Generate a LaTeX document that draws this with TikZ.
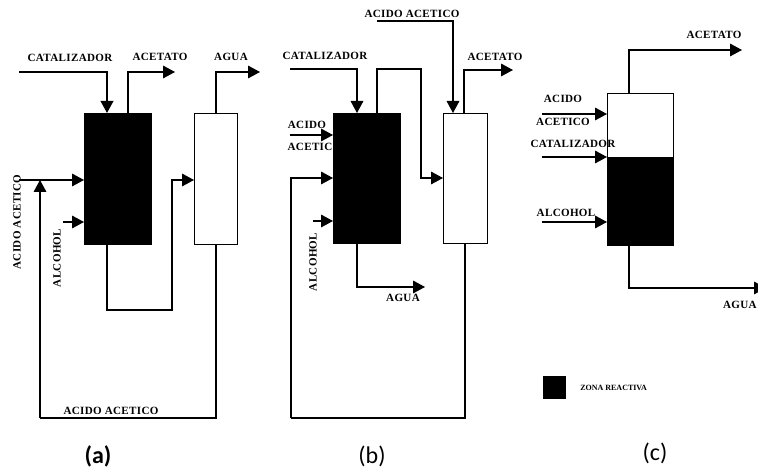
\documentclass[tikz,border=0pt]{standalone}
\usepackage{fontspec}
\setmainfont{Liberation Serif}
\newfontfamily\capfont{Carlito}
\usetikzlibrary{arrows.meta}
\tikzset{
  flow/.style={draw=black,line width=0.9pt,line join=miter,-{Triangle[length=9pt,width=9.5pt]}},
  heavy/.style={line width=1.15pt},
  pipe/.style={draw=black,line width=0.9pt},
  whitebox/.style={draw=black,line width=0.9pt,fill=white,inner sep=0pt,anchor=north west},
  blackbox/.style={draw=black,line width=0.9pt,fill=black,inner sep=0pt,anchor=north west},
  lab/.style={inner sep=0pt,font=\bfseries\fontsize{8.3}{9}\selectfont\addfontfeature{LetterSpace=3}},
  smalllab/.style={inner sep=0pt,font=\bfseries\fontsize{6}{7}\selectfont},
  vlab/.style={lab,rotate=90},
  panelcap/.style={inner sep=0pt,font=\capfont\fontsize{18}{20}\selectfont}
}
\begin{document}
\begin{tikzpicture}[x=0.75pt,y=-0.75pt]
\useasboundingbox (0,0) rectangle (758,470);
\clip (0,0) rectangle (758,470);
% (a)
\node[blackbox,minimum width=50pt,minimum height=98.25pt] (A1) at (84,113) {};
\node[whitebox,minimum width=32pt,minimum height=98.25pt] (A2) at (194,113) {};
\coordinate (acat) at (19,72);  \coordinate (acatin) at (107,113);
\coordinate (aaceo) at (128,113); \coordinate (aacet) at (175,72);
\coordinate (aaguo) at (216,113); \coordinate (aagu) at (260,72);
\coordinate (aac) at (19,180);  \coordinate (aacin) at (84,180);
\coordinate (aalc) at (63,222); \coordinate (aalcin) at (84,222);
\coordinate (abot) at (107,244); \coordinate (amid) at (172,310); \coordinate (a2in) at (194,180);
\coordinate (a2bot) at (216,244); \coordinate (arec) at (40,418); \coordinate (arecin) at (40,180);
\draw[flow,heavy] (acat) -| (acatin);
\draw[flow] (aaceo) |- (aacet);
\draw[flow] (aaguo) |- (aagu);
\draw[flow] (aac) -- (aacin);
\draw[flow] (aalc) -- (aalcin);
\draw[flow] (abot) |- (amid) |- (a2in);
\draw[pipe] (a2bot) |- (arec);
\draw[flow] (arec) -- (arecin);
\node[lab] (t1) at (70,58) {CATALIZADOR};
\node[lab] (t2) at (160,57) {ACETATO};
\node[lab] (t3) at (231,57) {AGUA};
\node[vlab] (t4) at (17,222) {ACIDO ACETICO};
\node[vlab] (t5) at (57,258) {ALCOHOL};
\node[lab] (t6) at (111,411) {ACIDO ACETICO};
\node[panelcap,font=\capfont\bfseries\fontsize{18}{20}\selectfont] (ca) at (98,456) {(a)};
% (b)
\node[blackbox,minimum width=50.25pt,minimum height=97.5pt] (B1) at (333,113) {};
\node[whitebox,minimum width=33pt,minimum height=97.5pt] (B2) at (443,113) {};
\coordinate (bcat) at (290,69); \coordinate (bcatin) at (357,113);
\coordinate (bov) at (377,113); \coordinate (bovm) at (421,69); \coordinate (b2in) at (443,178);
\coordinate (btop) at (377,21); \coordinate (btopin) at (453,113);
\coordinate (baceo) at (464,113); \coordinate (bacet) at (513,70);
\coordinate (bac) at (290,135); \coordinate (bacin) at (333,135);
\coordinate (balc) at (313,221); \coordinate (balcin) at (333,221);
\coordinate (bbot) at (357,243); \coordinate (bagu) at (425,287);
\coordinate (b2bot) at (465,243); \coordinate (brec) at (291,418); \coordinate (brecin) at (333,178);
\draw[flow] (bcat) -| (bcatin);
\draw[flow] (bov) |- (bovm) |- (b2in);
\draw[flow] (btop) -| (btopin);
\draw[flow] (baceo) |- (bacet);
\draw[flow] (bac) -- (bacin);
\draw[flow] (balc) -- (balcin);
\draw[flow] (bbot) |- (bagu);
\draw[pipe] (b2bot) |- (brec);
\draw[flow] (brec) |- (brecin);
\node[lab] (u1) at (325,56) {CATALIZADOR};
\node[lab] (u2) at (412,14) {ACIDO ACETICO};
\node[lab] (u3) at (495,57) {ACETATO};
\node[lab] (u4) at (307,125) {ACIDO};
\node[lab] (u5) at (310,147) {ACETIC};
\node[vlab] (u6) at (313,262) {ALCOHOL};
\node[lab] (u7) at (403,298) {AGUA};
\node[panelcap] (cb) at (372,456) {(b)};
% (c)
\node[whitebox,minimum width=49.5pt,minimum height=48pt] (C1) at (607,93) {};
\node[blackbox,minimum width=49.5pt,minimum height=66pt] (C2) at (607,157) {};
\coordinate (cto) at (629,93); \coordinate (cacet) at (742,50);
\coordinate (cac) at (542,114); \coordinate (cacin) at (607,114);
\coordinate (ccat) at (542,157); \coordinate (ccatin) at (607,157);
\coordinate (calc) at (542,222); \coordinate (calcin) at (607,222);
\coordinate (cbo) at (629,245); \coordinate (cagu) at (766,288);
\draw[flow] (cto) |- (cacet);
\draw[flow] (cac) -- (cacin);
\draw[flow] (ccat) -- (ccatin);
\draw[flow] (calc) -- (calcin);
\draw[flow] (cbo) |- (cagu);
\node[lab] (v1) at (714,35) {ACETATO};
\node[lab] (v2) at (563,99) {ACIDO};
\node[lab] (v3) at (563,122) {ACETICO};
\node[lab] (v4) at (573,144) {CATALIZADOR};
\node[lab] (v5) at (566,213) {ALCOHOL};
\node[lab,anchor=east] (v6) at (757,305) {AGUA};
\node[panelcap] (cc) at (655,453) {(c)};
% legend
\node[blackbox,minimum width=16.5pt,minimum height=16.5pt] (L) at (543,376) {};
\node[smalllab,anchor=west] (Lt) at (580,388) {ZONA REACTIVA};
\end{tikzpicture}
\end{document}
